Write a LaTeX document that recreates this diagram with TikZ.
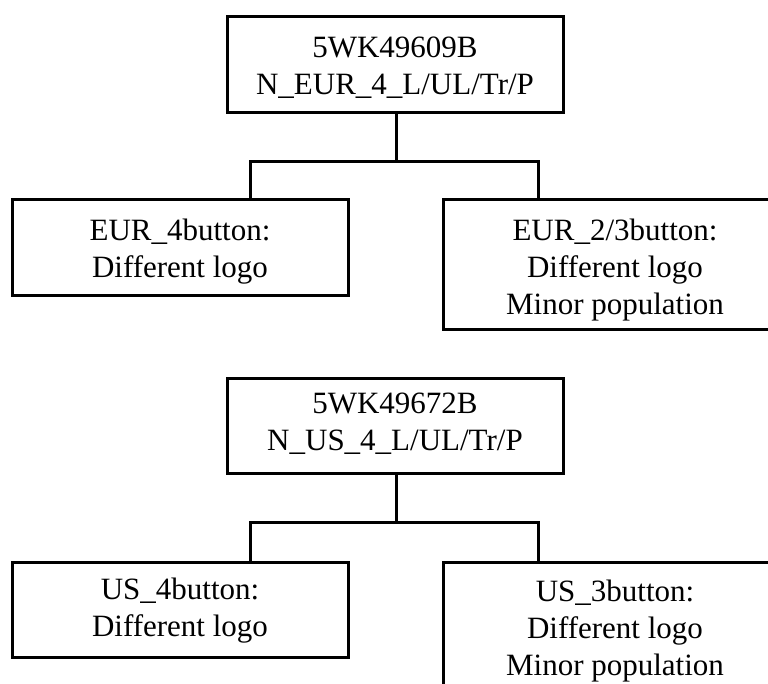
\documentclass[tikz,border=0pt]{standalone}
\usepackage{fontspec}
\setmainfont{Liberation Serif}
\usetikzlibrary{calc}
\newcommand{\tstrut}{\rule{0pt}{22pt}}
\begin{document}
\begin{tikzpicture}[x=1pt,y=-1pt,
  box/.style={draw, line width=3pt, rectangle, inner sep=0pt},
  txt/.style={anchor=north, inner sep=0pt, align=center, font=\fontsize{31}{37}\selectfont},
  wire/.style={line width=3pt}]
\useasboundingbox (0,0) rectangle (768,684);
\clip (0,0) rectangle (768,684);
% group 1
\node[box, minimum width=336pt, minimum height=96pt] (A) at (395,65) {};
\node[box, minimum width=336pt, minimum height=96pt] (B) at (180,248) {};
\node[box, minimum width=344pt, minimum height=130pt] (C) at (615,265) {};
\node[txt] (At) at ($(A.north)+(0,20)$) {\tstrut 5WK49609B\\N\_EUR\_4\_L/UL/Tr/P};
\node[txt] (Bt) at ($(B.north)+(0,20)$) {\tstrut EUR\_4button:\\Different logo};
\node[txt] (Ct) at ($(C.north)+(0,20)$) {\tstrut EUR\_2/3button:\\Different logo\\Minor population};
\coordinate (j1) at (396,162);
\draw[wire] (A.south -| j1) -- (j1);
\draw[wire] ($(B.north west)+(240,0)$) |- (j1) -| ($(C.north west)+(97,0)$);
% group 2
\node[box, minimum width=336pt, minimum height=95pt] (D) at (395,425.5) {};
\node[box, minimum width=336pt, minimum height=95pt] (E) at (180,609.5) {};
\node[box, minimum width=344pt, minimum height=130pt] (F) at (615,627) {};
\node[txt] (Dt) at ($(D.north)+(0,15)$) {\tstrut 5WK49672B\\N\_US\_4\_L/UL/Tr/P};
\node[txt] (Et) at ($(E.north)+(0,17)$) {\tstrut US\_4button:\\Different logo};
\node[txt] (Ft) at ($(F.north)+(0,19)$) {\tstrut US\_3button:\\Different logo\\Minor population};
\coordinate (j2) at (396,522);
\draw[wire] (D.south -| j2) -- (j2);
\draw[wire] ($(E.north west)+(240,0)$) |- (j2) -| ($(F.north west)+(97,0)$);
\end{tikzpicture}
\end{document}
